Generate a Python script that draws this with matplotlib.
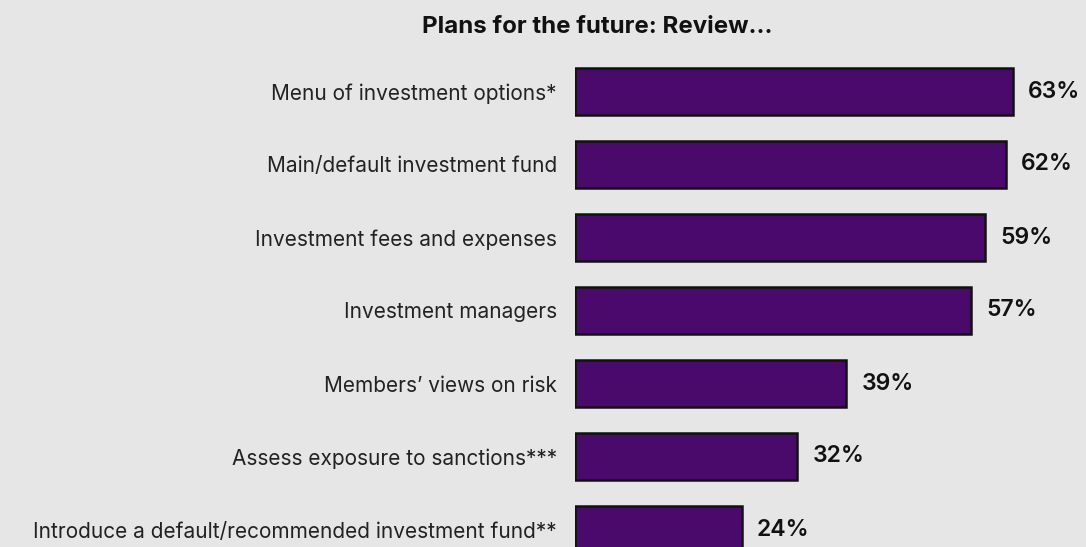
import matplotlib
matplotlib.use("Agg")
import matplotlib.pyplot as plt

categories = [
    "Menu of investment options*",
    "Main/default investment fund",
    "Investment fees and expenses",
    "Investment managers",
    "Members\u2019 views on risk",
    "Assess exposure to sanctions***",
    "Introduce a default/recommended investment fund**",
]
values = [63, 62, 59, 57, 39, 32, 24]
value_labels = [f"{v}%" for v in values]
title = "Plans for the future: Review..."

BG = "#e6e6e6"
BAR = "#4a0a6b"

plt.rcParams["font.family"] = ["Inter", "DejaVu Sans"]

fig = plt.figure(figsize=(10.86, 5.47), dpi=100, facecolor=BG)
ax = fig.add_axes([575 / 1086, 0.0, 1 - 575 / 1086, 1.0])
ax.set_facecolor(BG)

pos = list(range(len(categories)))
ax.barh(pos, values, height=0.64, color=BAR, edgecolor="#111111", linewidth=1.8)

for y, v, lab in zip(pos, values, value_labels):
    ax.annotate(lab, (v, y), xytext=(11, 0), textcoords="offset points",
                va="center", ha="left", fontsize=16.5, fontweight="semibold", color="#111111")

ax.set_xlim(0, 511 / 6.95)
ax.set_ylim((547 - 91.5) / 73, -91.5 / 73)
ax.set_yticks(pos)
ax.set_yticklabels(categories, fontsize=15, color="#222222")
ax.tick_params(axis="y", length=0, pad=13)
ax.set_xticks([])
for spine in ax.spines.values():
    spine.set_visible(False)

fig.text(597 / 1086, 1 - 33 / 547, title, ha="center", va="baseline",
         fontsize=17.3, fontweight="bold", color="#111111")

fig.savefig("out.png", dpi=100, facecolor=BG)
